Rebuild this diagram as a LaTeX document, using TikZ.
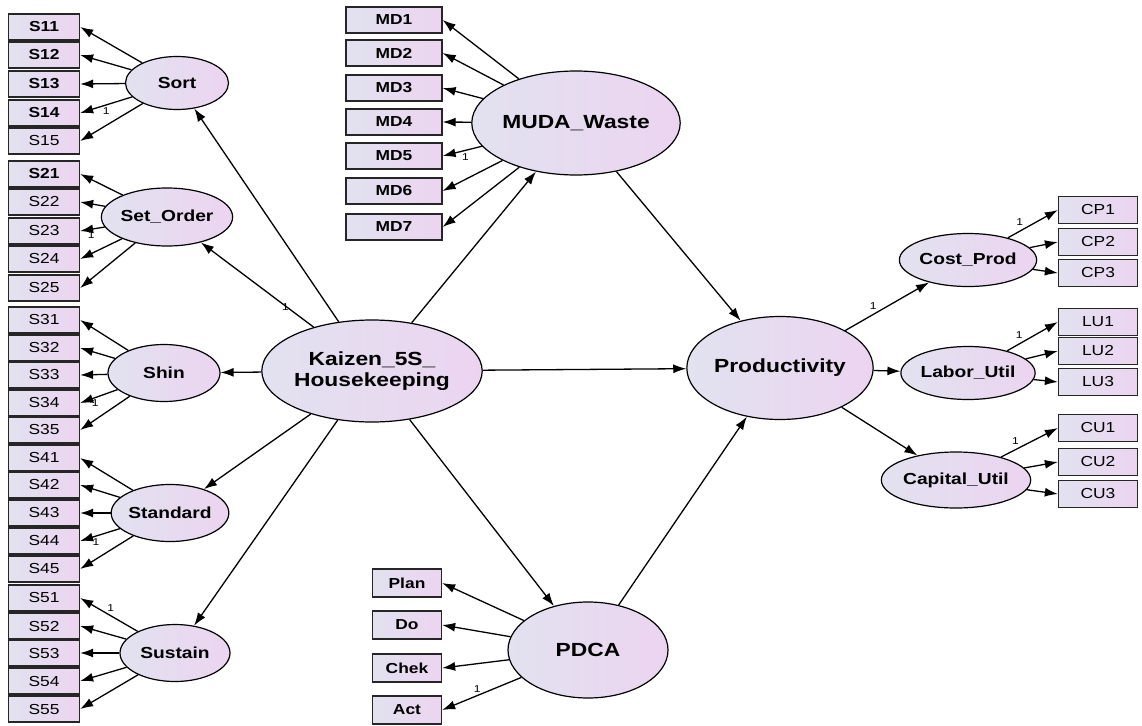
\documentclass[tikz,border=0pt]{standalone}
\usepackage{fontspec}
\setmainfont[FakeStretch=1.2]{Liberation Sans}
\usetikzlibrary{shapes.geometric,arrows.meta}
\definecolor{shadeL}{RGB}{226,226,240}
\definecolor{shadeR}{RGB}{236,212,240}
\tikzset{
  item/.style={draw, line width=1.3pt, draw=black!85, left color=shadeL, right color=shadeR,
    minimum height=26pt, inner sep=0pt, font=\fontsize{14.5}{16}\selectfont},
  latent/.style={draw, ellipse, line width=1.2pt, left color=shadeL, right color=shadeR,
    inner sep=0pt, font=\bfseries\fontsize{16}{18}\selectfont},
  biglatent/.style={latent, font=\bfseries\fontsize{19}{21}\selectfont, align=center},
  load/.style={-{Latex[length=13pt,width=9pt]}, line width=1.3pt},
  one/.style={font=\fontsize{10}{11}\selectfont, inner sep=1pt}
}
\begin{document}
\begin{tikzpicture}[x=1pt,y=-1pt]
  \useasboundingbox[fill=white] (0,0) rectangle (1142,725);

  % left column of 5S items
  \foreach \n/\y in {11/27,12/55,13/84,14/113,21/174}
    \node[item, minimum width=71pt, font=\bfseries\fontsize{14.5}{16}\selectfont] (s\n) at (44,\y) {S\n};
  \foreach \n/\y in {15/141,22/202,23/231,24/259,25/288,31/320,32/348,33/375,34/403,35/430,
      41/458,42/485,43/513,44/541,45/569,51/598,52/626,53/653,54/681,55/709}
    \node[item, minimum width=71pt] (s\n) at (44,\y) {S\n};

  % MUDA items
  \foreach \k/\y in {1/20,2/53,3/88,4/122,5/156,6/191,7/227}
    \node[item, minimum width=96pt, font=\bfseries\fontsize{14.5}{16}\selectfont] (md\k) at (394,\y) {MD\k};

  % PDCA items
  \foreach \w/\y in {Plan/583,Do/625,Chek/668,Act/710}
    \node[item, minimum width=69pt, minimum height=28pt, font=\bfseries\fontsize{14.5}{16}\selectfont] (\w) at (407,\y) {\w};

  % right column items
  \foreach \w/\y in {CP1/210,CP2/242,CP3/273,LU1/322,LU2/351,LU3/382,CU1/428,CU2/462,CU3/494}
    \node[item, minimum width=79pt, minimum height=27pt] (\w) at (1098,\y) {\w};

  % latent variables
  \node[latent, minimum width=103pt, minimum height=53pt] (sort) at (177,83) {Sort};
  \node[latent, minimum width=108pt, minimum height=58pt] (setorder) at (167,217) {Set\_Order};
  \node[latent, minimum width=112pt, minimum height=57pt] (shin) at (164,373) {Shin};
  \node[latent, minimum width=115pt, minimum height=57pt] (standard) at (170,513) {Standard};
  \node[latent, minimum width=110pt, minimum height=57pt] (sustain) at (175,653) {Sustain};
  \node[biglatent, minimum width=183pt, minimum height=102pt] (kaizen) at (372,371) {Kaizen\_5S\_\\Housekeeping};
  \node[biglatent, minimum width=136pt, minimum height=104pt] (muda) at (576,123) {MUDA\_Waste};
  \node[biglatent, minimum width=160pt, minimum height=96pt] (pdca) at (588,650) {PDCA};
  \node[biglatent, minimum width=183pt, minimum height=103pt] (prod) at (780,368) {Productivity};
  \node[latent, minimum width=104pt, minimum height=53pt] (costprod) at (968,260) {Cost\_Prod};
  \node[latent, minimum width=108pt, minimum height=53pt] (laborutil) at (968,373) {Labor\_Util};
  \node[latent, minimum width=114pt, minimum height=56pt] (caputil) at (956,480) {Capital\_Util};

  % measurement arrows
  \foreach \i in {1,...,5}{
    \draw[load] (sort) -- (s1\i.east);
    \draw[load] (setorder) -- (s2\i.east);
    \draw[load] (shin) -- (s3\i.east);
    \draw[load] (standard) -- (s4\i.east);
    \draw[load] (sustain) -- (s5\i.east);}
  \foreach \k in {1,...,7}
    \draw[load] (muda) -- (md\k.east);
  \foreach \w in {Plan,Do,Chek,Act}
    \draw[load] (pdca) -- (\w.east);
  \foreach \w in {CP1,CP2,CP3}
    \draw[load] (costprod) -- (\w.west);
  \foreach \w in {LU1,LU2,LU3}
    \draw[load] (laborutil) -- (\w.west);
  \foreach \w in {CU1,CU2,CU3}
    \draw[load] (caputil) -- (\w.west);

  % structural arrows
  \foreach \t in {sort,setorder,shin,standard,sustain,muda,pdca,prod}
    \draw[load] (kaizen) -- (\t);
  \draw[load] (muda) -- (prod);
  \draw[load] (pdca) -- (prod);
  \foreach \t in {costprod,laborutil,caputil}
    \draw[load] (prod) -- (\t);

  % fixed loadings
  \path (sort) -- (s14.east) node[one, pos=0.5, below=1pt] (f1) {1};
  \path (setorder) -- (s23.east) node[one, pos=0.55, below=1pt] (f2) {1};
  \path (shin) -- (s34.east) node[one, pos=0.6, below=1pt] (f3) {1};
  \path (standard) -- (s44.east) node[one, pos=0.6, below=1pt] (f4) {1};
  \path (sustain) -- (s51.east) node[one, pos=0.55, above right=0pt] (f5) {1};
  \path (muda) -- (md5.east) node[one, pos=0.42, below=2pt] (f6) {1};
  \path (pdca) -- (Act.east) node[one, pos=0.5, above left=0pt] (f7) {1};
  \path (kaizen) -- (setorder) node[one, pos=0.3, below right=1pt] (f8) {1};
  \path (prod) -- (costprod) node[one, pos=0.4, above left=1pt] (f9) {1};
  \path (costprod) -- (CP1.west) node[one, pos=0.35, above left=1pt] (f10) {1};
  \path (laborutil) -- (LU1.west) node[one, pos=0.35, above left=1pt] (f11) {1};
  \path (caputil) -- (CU1.west) node[one, pos=0.35, above left=1pt] (f12) {1};
\end{tikzpicture}
\end{document}
